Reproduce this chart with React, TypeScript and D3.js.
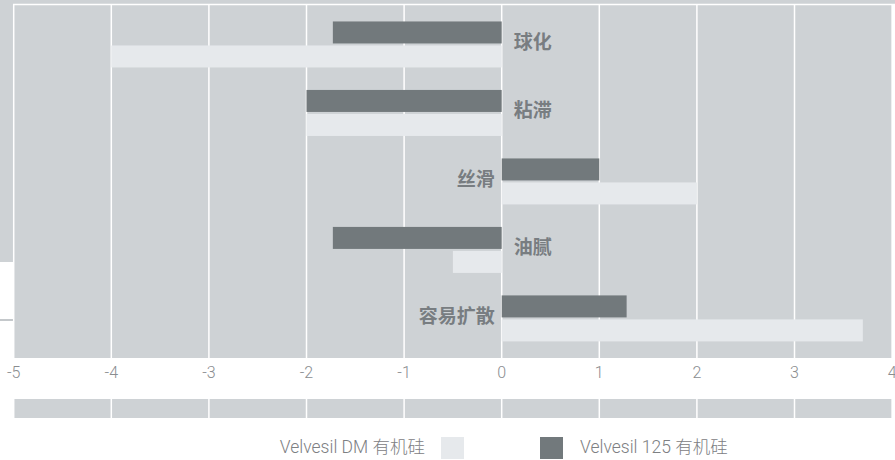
import * as d3 from 'd3';

const categories = ['球化', '粘滞', '丝滑', '油腻', '容易扩散'];
const velvesil125 = [-1.73, -2.0, 1.0, -1.73, 1.28];
const velvesilDM = [-4.0, -2.0, 2.0, -0.5, 3.7];
const ticks = [-5, -4, -3, -2, -1, 0, 1, 2, 3, 4];
const legendDM = 'Velvesil DM 有机硅';
const legend125 = 'Velvesil 125 有机硅';

const W = 895;
const H = 460;
const BG = '#ced2d5';
const DARK = '#72797c';
const LIGHT = '#e6e9ec';
const TEXT = '#787d81';

export default function App() {
  const x = d3.scaleLinear().domain([-5, 4]).range([13.7, 892.1]);
  const y = d3
    .scaleBand<string>()
    .domain(categories)
    .range([10.5, 352.25])
    .paddingInner(0.33)
    .paddingOuter(0.16);
  const barH = 22;
  const plotTop = 4;
  const plotBottom = 358;

  return (
    <svg
      width={W}
      height={H}
      style={{ position: 'absolute', left: 0, top: 0, background: '#fff' }}
    >
      {/* cropped page background */}
      <rect x={0} y={0} width={W} height={4} fill={BG} />
      <rect x={0} y={0} width={14} height={262} fill={BG} />
      <line x1={0} x2={13} y1={320} y2={320} stroke="#c4c8cb" strokeWidth={2} />

      {/* plot area */}
      <rect x={x(-5)} y={plotTop} width={x(4) - x(-5)} height={plotBottom - plotTop} fill={BG} />
      <line x1={13} x2={W} y1={plotTop + 0.5} y2={plotTop + 0.5} stroke="#fff" strokeWidth={1.5} />
      {/* lower band */}
      <rect x={x(-5)} y={399} width={x(4) - x(-5)} height={19} fill={BG} />

      {ticks.map((t) => (
        <g key={t}>
          <line x1={x(t)} x2={x(t)} y1={plotTop} y2={plotBottom} stroke="#fff" strokeWidth={1.5} />
          <line x1={x(t)} x2={x(t)} y1={399} y2={418} stroke="#fff" strokeWidth={1.5} />
        </g>
      ))}

      {categories.map((c, i) => {
        const y0 = y(c) as number;
        const d = velvesil125[i];
        const l = velvesilDM[i];
        return (
          <g key={c}>
            <rect
              x={Math.min(x(0), x(d))}
              y={y0}
              width={Math.abs(x(d) - x(0))}
              height={barH}
              fill={DARK}
            />
            <rect
              x={Math.min(x(0), x(l))}
              y={y0 + barH + 2}
              width={Math.abs(x(l) - x(0))}
              height={barH}
              fill={LIGHT}
            />
          </g>
        );
      })}

      {categories.map((c, i) => {
        const y0 = y(c) as number;
        const pos = velvesil125[i] > 0;
        return (
          <text
            key={c}
            x={pos ? x(0) - 7 : x(0) + 12}
            y={y0 + 23 - 4}
            textAnchor={pos ? 'end' : 'start'}
            dominantBaseline="central"
            fill={TEXT}
            fontSize={19}
            fontWeight="bold"
            fontFamily="'Noto Sans CJK SC', sans-serif"
          >
            {c}
          </text>
        );
      })}

      {ticks.map((t) => (
        <text
          key={'l' + t}
          x={x(t)}
          y={372}
          textAnchor="middle"
          dominantBaseline="central"
          fill="#8a8d90"
          fontSize={16}
          fontWeight={300}
          fontFamily="Roboto, 'Noto Sans CJK SC', sans-serif"
        >
          {t}
        </text>
      ))}

      {/* legend */}
      <text
        x={425}
        y={447}
        textAnchor="end"
        dominantBaseline="central"
        fill="#7d8083"
        fontSize={17.5}
        fontWeight={300}
        fontFamily="Roboto, 'Noto Sans CJK SC', sans-serif"
      >
        {legendDM}
      </text>
      <rect x={441} y={437} width={23} height={22} fill={LIGHT} />
      <rect x={540} y={437} width={23} height={22} fill={DARK} />
      <text
        x={580}
        y={447}
        textAnchor="start"
        dominantBaseline="central"
        fill="#7d8083"
        fontSize={17.5}
        fontWeight={300}
        fontFamily="Roboto, 'Noto Sans CJK SC', sans-serif"
      >
        {legend125}
      </text>
    </svg>
  );
}
